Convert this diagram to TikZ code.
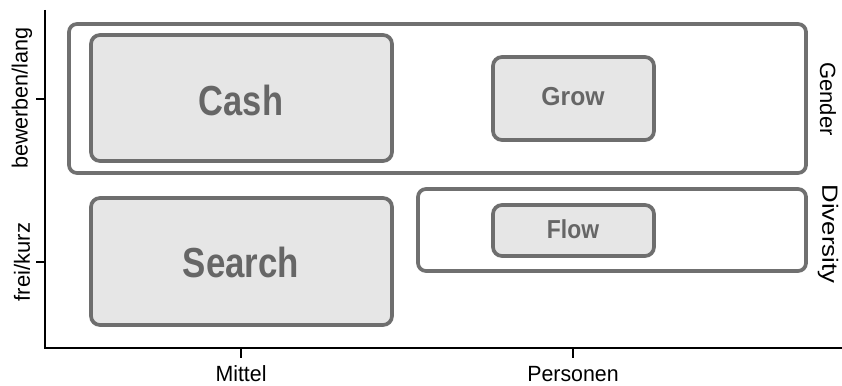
\documentclass[tikz,border=0pt]{standalone}
\usepackage{fontspec}
\setmainfont{Liberation Sans}
\definecolor{boxline}{HTML}{6E6E6E}
\definecolor{grpline}{HTML}{707070}
\definecolor{cellfill}{HTML}{E6E6E6}
\definecolor{celltext}{HTML}{666666}
\begin{document}
\begin{tikzpicture}[x=1pt,y=-1pt,
  grp/.style={draw=grpline, line width=3.7pt, rounded corners=8pt, fill=white, inner sep=0pt},
  cell/.style={draw=boxline, line width=3.7pt, rounded corners=9pt, fill=cellfill, inner sep=0pt},
  celllab/.style={text=celltext, inner sep=0pt, font=\bfseries},
  axlab/.style={inner sep=0pt, font=\fontsize{22}{22}\selectfont},
  axis/.style={line width=1.4pt, black}]
\useasboundingbox (0,0) rectangle (842,385);
% groups
\node[grp, minimum width=737pt, minimum height=149pt] (gender) at (437.5,98.5) {};
\node[grp, minimum width=388pt, minimum height=82pt] (diversity) at (612,230) {};
% cells
\node[cell, minimum width=301pt, minimum height=126pt] (cash) at (241.5,98) {};
\node[cell, minimum width=161pt, minimum height=83pt] (grow) at (573.5,98.5) {};
\node[cell, minimum width=301pt, minimum height=127pt] (search) at (241.5,261.5) {};
\node[cell, minimum width=161pt, minimum height=51pt] (flow) at (573.5,230.5) {};
% cell texts
\node[celllab] (cashlab) at (241,100) {\fontsize{42}{42}\selectfont\scalebox{0.82}[1]{Cash}};
\node[celllab] (searchlab) at (241,262) {\fontsize{42}{42}\selectfont\scalebox{0.83}[1]{Search}};
\node[celllab] (growlab) at (573,97) {\fontsize{26}{26}\selectfont\scalebox{0.95}[1]{Grow}};
\node[celllab] (flowlab) at (573,229) {\fontsize{26}{26}\selectfont\scalebox{0.88}[1]{Flow}};
% axes
\coordinate (ytop) at (45,10);
\coordinate (orig) at (45,348);
\coordinate (xend) at (842,348);
\draw[axis] (ytop) -- (orig) -- (xend);
\coordinate (yt1) at (45,99);  \coordinate (yt1e) at (36,99);
\coordinate (yt2) at (45,262); \coordinate (yt2e) at (36,262);
\coordinate (xt1) at (241,348); \coordinate (xt1e) at (241,358);
\coordinate (xt2) at (573,348); \coordinate (xt2e) at (573,358);
\draw[axis] (yt1) -- (yt1e);
\draw[axis] (yt2) -- (yt2e);
\draw[axis] (xt1) -- (xt1e);
\draw[axis] (xt2) -- (xt2e);
% axis labels
\node[axlab, anchor=base] (mittel) at (241,381) {\scalebox{0.97}[1]{Mittel}};
\node[axlab, anchor=base] (personen) at (573,381) {\scalebox{0.97}[1]{Personen}};
\node[axlab, rotate=90] (bew) at (22,98) {\scalebox{0.98}[1]{bewerben/lang}};
\node[axlab, rotate=90] (frei) at (22,262) {frei/kurz};
\node[axlab, rotate=-90] (genderlab) at (828,99) {Gender};
\node[axlab, rotate=-90] (divlab) at (828,234) {\scalebox{1.17}[1]{Diversity}};
\end{tikzpicture}
\end{document}
